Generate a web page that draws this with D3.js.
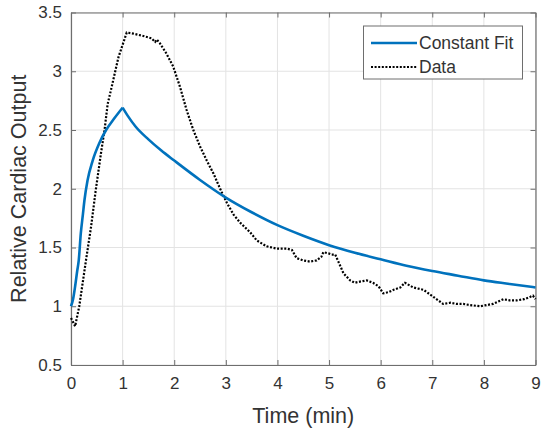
<!DOCTYPE html>
<html>
<head>
<meta charset="utf-8">
<script src="https://cdn.jsdelivr.net/npm/d3@7"></script>
<style>
  body { margin: 0; background: #fff; }
  text { font-family: "Liberation Sans", Arial, Helvetica, sans-serif; }
</style>
</head>
<body>
<svg id="chart" width="541" height="436"></svg>
<script>
// constant fit curve, peak at t = 1
const fitTime = [0, 0.04, 0.08, 0.12, 0.15, 0.19, 0.23, 0.26, 0.32, 0.42, 0.55, 0.68, 0.84, 1.0,
  1.1, 1.25, 1.5, 1.75, 2, 2.5, 3, 3.5, 4, 4.5, 5, 5.5, 6, 6.5, 7, 7.5, 8, 8.5, 9]
const fitValue = [1.0, 1.06, 1.17, 1.30, 1.39, 1.62, 1.78, 1.90, 2.07, 2.24, 2.39, 2.50, 2.60, 2.69,
  2.62, 2.53, 2.42, 2.325, 2.24, 2.075, 1.925, 1.80, 1.69, 1.60, 1.52, 1.455, 1.40, 1.345, 1.30, 1.26, 1.22, 1.19, 1.16]
const fitPeak = 13

// measured data
const dataTime = [0, 0.08, 0.16, 0.29, 0.39, 0.48, 0.58, 0.65, 0.71, 0.79,
  0.92, 1.08, 1.21, 1.40, 1.56, 1.63, 1.66, 1.72, 1.85, 1.98,
  2.11, 2.24, 2.37, 2.50, 2.63, 2.76, 2.92, 3.02, 3.15, 3.28,
  3.47, 3.60, 3.79, 3.99, 4.18, 4.28, 4.37, 4.50, 4.63, 4.76,
  4.85, 4.89, 4.99, 5.05, 5.12, 5.18, 5.28, 5.41, 5.50, 5.60,
  5.73, 5.85, 5.96, 6.05, 6.15, 6.25, 6.38, 6.47, 6.55, 6.63,
  6.83, 7.02, 7.21, 7.35, 7.47, 7.60, 7.73, 7.93, 8.05, 8.18,
  8.38, 8.50, 8.64, 8.78, 8.90, 8.95, 9.0]
const dataValue = [0.90, 0.83, 1.00, 1.39, 1.68, 1.99, 2.30, 2.50, 2.72, 2.87,
  3.12, 3.33, 3.32, 3.30, 3.28, 3.25, 3.27, 3.24, 3.15, 3.04,
  2.87, 2.67, 2.50, 2.36, 2.24, 2.13, 1.97, 1.88, 1.78, 1.71,
  1.63, 1.56, 1.51, 1.49, 1.49, 1.48, 1.41, 1.39, 1.38, 1.39,
  1.42, 1.46, 1.45, 1.44, 1.44, 1.38, 1.28, 1.22, 1.20, 1.21,
  1.22, 1.20, 1.17, 1.11, 1.12, 1.14, 1.16, 1.20, 1.18, 1.16,
  1.14, 1.08, 1.02, 1.03, 1.02, 1.02, 1.01, 1.00, 1.01, 1.02,
  1.06, 1.05, 1.05, 1.06, 1.08, 1.09, 1.06]

const xTicks = [0, 1, 2, 3, 4, 5, 6, 7, 8, 9]
const yTicks = [0.5, 1, 1.5, 2, 2.5, 3, 3.5]
const seriesNames = ['Constant Fit', 'Data']

const plotLeft = 71, plotRight = 535.5, plotTop = 12.5, plotBottom = 365
const axisColor = '#6e6e6e'
const textColor = '#333'
const gridColor = '#e3e3e3'
const fitColor = '#0072BD'

const svg = d3.select('#chart')
svg.append('rect').attr('width', 541).attr('height', 436).attr('fill', '#fff')

const x = d3.scaleLinear().domain([0, 9]).range([plotLeft, plotRight])
const y = d3.scaleLinear().domain([0.5, 3.5]).range([plotBottom, plotTop])

// grid
const grid = svg.append('g')
grid.selectAll('.gx')
  .data(xTicks)
  .enter()
  .append('line')
  .attr('x1', d => x(d)).attr('x2', d => x(d))
  .attr('y1', plotTop).attr('y2', plotBottom)
  .attr('stroke', gridColor)
grid.selectAll('.gy')
  .data(yTicks)
  .enter()
  .append('line')
  .attr('y1', d => y(d)).attr('y2', d => y(d))
  .attr('x1', plotLeft).attr('x2', plotRight)
  .attr('stroke', gridColor)

// axes, ticks pointing inwards on all four sides
const styleAxis = (g) => {
  g.selectAll('.domain').attr('stroke', axisColor).attr('stroke-width', 1.2)
  g.selectAll('.tick line').attr('stroke', axisColor)
  g.selectAll('.tick text')
    .attr('fill', textColor)
    .style('font-size', '17px')
}

svg.append('g')
  .attr('transform', `translate(0,${plotBottom})`)
  .call(d3.axisBottom(x).tickValues(xTicks).tickSizeInner(-5).tickSizeOuter(0).tickPadding(12).tickFormat(d3.format('d')))
  .call(styleAxis)
svg.append('g')
  .attr('transform', `translate(0,${plotTop})`)
  .call(d3.axisTop(x).tickValues(xTicks).tickSizeInner(-5).tickSizeOuter(0).tickFormat(''))
  .call(styleAxis)
svg.append('g')
  .attr('transform', `translate(${plotLeft},0)`)
  .call(d3.axisLeft(y).tickValues(yTicks).tickSizeInner(-5).tickSizeOuter(0).tickPadding(9).tickFormat(d3.format('')))
  .call(styleAxis)
svg.append('g')
  .attr('transform', `translate(${plotRight},0)`)
  .call(d3.axisRight(y).tickValues(yTicks).tickSizeInner(-5).tickSizeOuter(0).tickFormat(''))
  .call(styleAxis)

// lines
const fitPoints = fitTime.map((t, i) => [t, fitValue[i]])
const dataPoints = dataTime.map((t, i) => [t, dataValue[i]])
const fitLine = d3.line()
  .x(d => x(d[0]))
  .y(d => y(d[1]))
  .curve(d3.curveMonotoneX)
const dataLine = d3.line()
  .x(d => x(d[0]))
  .y(d => y(d[1]))

svg.append('path')
  .attr('d', dataLine(dataPoints))
  .attr('fill', 'none')
  .attr('stroke', '#000')
  .attr('stroke-width', 2.2)
  .attr('stroke-dasharray', '2,1.6')

// rise and decay drawn separately so the peak stays sharp
svg.selectAll('.fit')
  .data([fitPoints.slice(0, fitPeak + 1), fitPoints.slice(fitPeak)])
  .enter()
  .append('path')
  .attr('class', 'fit')
  .attr('d', d => fitLine(d))
  .attr('fill', 'none')
  .attr('stroke', fitColor)
  .attr('stroke-width', 2.6)
  .attr('stroke-linejoin', 'miter')

// axis labels
svg.append('text')
  .attr('x', (plotLeft + plotRight) / 2)
  .attr('y', 423)
  .attr('text-anchor', 'middle')
  .attr('fill', textColor)
  .style('font-size', '21.5px')
  .text('Time (min)')
svg.append('text')
  .attr('transform', `translate(26,${(plotTop + plotBottom) / 2}) rotate(-90)`)
  .attr('text-anchor', 'middle')
  .attr('fill', textColor)
  .style('font-size', '21.5px')
  .text('Relative Cardiac Output')

// legend
const legend = svg.append('g')
legend.append('rect')
  .attr('x', 363.5).attr('y', 26)
  .attr('width', 159).attr('height', 53)
  .attr('fill', '#fff')
  .attr('stroke', axisColor)
  .attr('stroke-width', 1)
const rows = legend.selectAll('.row')
  .data(seriesNames)
  .enter()
  .append('g')
  .attr('transform', (d, i) => `translate(0,${43 + i * 24})`)
rows.append('line')
  .attr('x1', 371).attr('x2', 417)
  .attr('stroke', (d, i) => i === 0 ? fitColor : '#000')
  .attr('stroke-width', (d, i) => i === 0 ? 2.6 : 2.2)
  .attr('stroke-dasharray', (d, i) => i === 0 ? null : '2,1.6')
rows.append('text')
  .attr('x', 419)
  .attr('y', 6)
  .attr('fill', textColor)
  .style('font-size', '17.5px')
  .text(d => d)
</script>
</body>
</html>
